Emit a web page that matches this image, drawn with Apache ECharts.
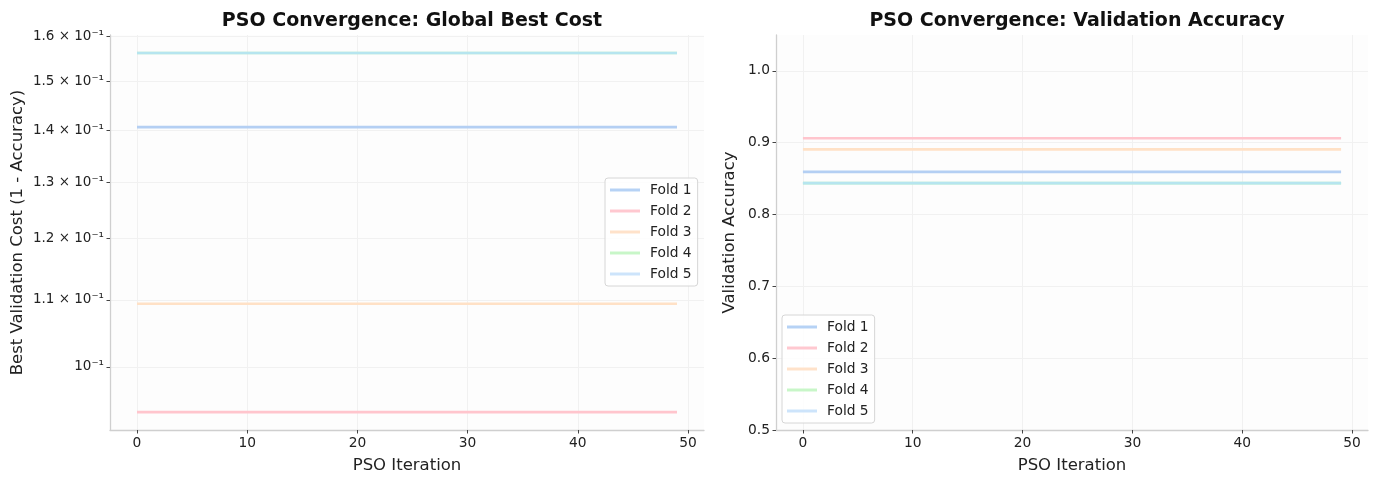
<!DOCTYPE html>
<html>
<head>
<meta charset="utf-8">
<script src="https://cdn.jsdelivr.net/npm/echarts@6/dist/echarts.min.js"></script>
<style>
html,body{margin:0;padding:0;background:#fff;}
#chart{width:1384px;height:479px;}
</style>
</head>
<body>
<div id="chart"></div>
<script>
// ---- data ----
const iterations = [0,1,2,3,4,5,6,7,8,9,10,11,12,13,14,15,16,17,18,19,20,21,22,23,24,25,26,27,28,29,30,31,32,33,34,35,36,37,38,39,40,41,42,43,44,45,46,47,48,49];
const foldNames = ['Fold 1','Fold 2','Fold 3','Fold 4','Fold 5'];
// validation accuracy of the global best, per PSO iteration
const fold1Acc = [0.859375,0.859375,0.859375,0.859375,0.859375,0.859375,0.859375,0.859375,0.859375,0.859375,0.859375,0.859375,0.859375,0.859375,0.859375,0.859375,0.859375,0.859375,0.859375,0.859375,0.859375,0.859375,0.859375,0.859375,0.859375,0.859375,0.859375,0.859375,0.859375,0.859375,0.859375,0.859375,0.859375,0.859375,0.859375,0.859375,0.859375,0.859375,0.859375,0.859375,0.859375,0.859375,0.859375,0.859375,0.859375,0.859375,0.859375,0.859375,0.859375,0.859375];
const fold2Acc = [0.90625,0.90625,0.90625,0.90625,0.90625,0.90625,0.90625,0.90625,0.90625,0.90625,0.90625,0.90625,0.90625,0.90625,0.90625,0.90625,0.90625,0.90625,0.90625,0.90625,0.90625,0.90625,0.90625,0.90625,0.90625,0.90625,0.90625,0.90625,0.90625,0.90625,0.90625,0.90625,0.90625,0.90625,0.90625,0.90625,0.90625,0.90625,0.90625,0.90625,0.90625,0.90625,0.90625,0.90625,0.90625,0.90625,0.90625,0.90625,0.90625,0.90625];
const fold3Acc = [0.890625,0.890625,0.890625,0.890625,0.890625,0.890625,0.890625,0.890625,0.890625,0.890625,0.890625,0.890625,0.890625,0.890625,0.890625,0.890625,0.890625,0.890625,0.890625,0.890625,0.890625,0.890625,0.890625,0.890625,0.890625,0.890625,0.890625,0.890625,0.890625,0.890625,0.890625,0.890625,0.890625,0.890625,0.890625,0.890625,0.890625,0.890625,0.890625,0.890625,0.890625,0.890625,0.890625,0.890625,0.890625,0.890625,0.890625,0.890625,0.890625,0.890625];
const fold4Acc = [0.84375,0.84375,0.84375,0.84375,0.84375,0.84375,0.84375,0.84375,0.84375,0.84375,0.84375,0.84375,0.84375,0.84375,0.84375,0.84375,0.84375,0.84375,0.84375,0.84375,0.84375,0.84375,0.84375,0.84375,0.84375,0.84375,0.84375,0.84375,0.84375,0.84375,0.84375,0.84375,0.84375,0.84375,0.84375,0.84375,0.84375,0.84375,0.84375,0.84375,0.84375,0.84375,0.84375,0.84375,0.84375,0.84375,0.84375,0.84375,0.84375,0.84375];
const fold5Acc = [0.84375,0.84375,0.84375,0.84375,0.84375,0.84375,0.84375,0.84375,0.84375,0.84375,0.84375,0.84375,0.84375,0.84375,0.84375,0.84375,0.84375,0.84375,0.84375,0.84375,0.84375,0.84375,0.84375,0.84375,0.84375,0.84375,0.84375,0.84375,0.84375,0.84375,0.84375,0.84375,0.84375,0.84375,0.84375,0.84375,0.84375,0.84375,0.84375,0.84375,0.84375,0.84375,0.84375,0.84375,0.84375,0.84375,0.84375,0.84375,0.84375,0.84375];
const accByFold = [fold1Acc, fold2Acc, fold3Acc, fold4Acc, fold5Acc];
// tick labels
const xTicks = [0,10,20,30,40,50];
const costTicks = [0.10,0.11,0.12,0.13,0.14,0.15,0.16];
const costTickLabels = ['10⁻¹','1.1 × 10⁻¹','1.2 × 10⁻¹','1.3 × 10⁻¹','1.4 × 10⁻¹','1.5 × 10⁻¹','1.6 × 10⁻¹'];
const accTicks = [0.5,0.6,0.7,0.8,0.9,1.0];
const accTickLabels = ['0.5','0.6','0.7','0.8','0.9','1.0'];

// ---- styles ----
const FONT = 'DejaVu Sans';
const lineColors = ['#b4cff3','#ffc5cd','#ffe1c6','#c6f3c6','#b6e5ef'];
const legendColors = ['#b6d2f5','#ffc8d0','#ffe2ca','#c8f6c8','#cde4fb'];
const spine = '#cfcfcf';
const gridCol = '#f1f1f1';

function costLabel(v){
  for (let i=0;i<costTicks.length;i++){ if (Math.abs(v-costTicks[i])<1e-6) return costTickLabels[i]; }
  return '';
}
function accLabel(v){
  for (let i=0;i<accTicks.length;i++){ if (Math.abs(v-accTicks[i])<1e-6) return accTickLabels[i]; }
  return '';
}

function xAxis(gi){
  return {
    type:'value', gridIndex:gi, min:-2.45, max:51.45,
    name:'PSO Iteration', nameLocation:'middle', nameGap:27,
    nameTextStyle:{fontFamily:FONT,fontSize:16.5,color:'#222'},
    axisLine:{show:true,onZero:false,lineStyle:{color:spine,width:1.3}},
    axisTick:{show:true,length:3.5,customValues:xTicks,lineStyle:{color:'#444',width:1}},
    axisLabel:{customValues:xTicks,fontFamily:FONT,fontSize:13.8,color:'#222',margin:6},
    splitLine:{show:true,lineStyle:{color:gridCol,width:1}}
  };
}

const legendBase = {
  orient:'vertical', icon:'rect', itemWidth:30, itemHeight:3, itemGap:5,
  padding:[4,6,4,5], borderColor:'#d6d6d6', borderWidth:1, borderRadius:3,
  backgroundColor:'rgba(255,255,255,0.85)',
  textStyle:{fontFamily:FONT,fontSize:13.8,color:'#222',lineHeight:16,padding:[0,0,0,5]},
  data:foldNames, selectedMode:false
};

const series = [];
foldNames.forEach((n,i)=>{
  series.push({
    name:n, type:'line', xAxisIndex:0, yAxisIndex:0, showSymbol:false, symbol:'none',
    silent:true, animation:false, z:2+i,
    itemStyle:{color:legendColors[i]},
    lineStyle:{color:lineColors[i],width:2.7},
    data: iterations.map((it,k)=>[it, 1-accByFold[i][k]])
  });
  series.push({
    name:n, type:'line', xAxisIndex:1, yAxisIndex:1, showSymbol:false, symbol:'none',
    silent:true, animation:false, z:2+i,
    itemStyle:{color:legendColors[i]},
    lineStyle:{color:lineColors[i],width:2.7},
    data: iterations.map((it,k)=>[it, accByFold[i][k]])
  });
});

const option = {
  backgroundColor:'#ffffff',
  animation:false,
  title:[
    {text:'PSO Convergence: Global Best Cost', left:407, top:7, textAlign:'center',
     textStyle:{fontFamily:FONT,fontSize:19,fontWeight:'bold',color:'#111'}},
    {text:'PSO Convergence: Validation Accuracy', left:1072, top:7, textAlign:'center',
     textStyle:{fontFamily:FONT,fontSize:19,fontWeight:'bold',color:'#111'}}
  ],
  grid:[
    {left:110, right:680, top:35, bottom:49, show:true, backgroundColor:'#fdfdfd', borderWidth:0},
    {left:776, right:16, top:35, bottom:48, show:true, backgroundColor:'#fdfdfd', borderWidth:0}
  ],
  xAxis:[xAxis(0), xAxis(1)],
  yAxis:[
    {type:'log', gridIndex:0, min:0.0914, max:0.1603, logBase:10,
     name:'Best Validation Cost (1 - Accuracy)', nameLocation:'middle', nameGap:84,
     nameTextStyle:{fontFamily:FONT,fontSize:16.5,color:'#222'},
     axisLine:{show:true,onZero:false,lineStyle:{color:spine,width:1.3}},
     axisTick:{show:true,length:3.5,customValues:costTicks,lineStyle:{color:'#444',width:1}},
     axisLabel:{customValues:costTicks,formatter:costLabel,fontFamily:FONT,fontSize:13.5,color:'#222',margin:6},
     splitLine:{show:true,lineStyle:{color:gridCol,width:1}},
     minorTick:{show:false}, minorSplitLine:{show:false}},
    {type:'value', gridIndex:1, min:0.5, max:1.05,
     name:'Validation Accuracy', nameLocation:'middle', nameGap:38,
     nameTextStyle:{fontFamily:FONT,fontSize:16.5,color:'#222'},
     axisLine:{show:true,onZero:false,lineStyle:{color:spine,width:1.3}},
     axisTick:{show:true,length:3.5,customValues:accTicks,lineStyle:{color:'#444',width:1}},
     axisLabel:{customValues:accTicks,formatter:accLabel,fontFamily:FONT,fontSize:13.8,color:'#222',margin:6},
     splitLine:{show:true,lineStyle:{color:gridCol,width:1}}}
  ],
  legend:[
    Object.assign({}, legendBase, {left:605, top:178}),
    Object.assign({}, legendBase, {left:782, top:315})
  ],
  series: series
};

const chart = echarts.init(document.getElementById('chart'), null, {renderer:'canvas'});
chart.setOption(option);
</script>
</body>
</html>
